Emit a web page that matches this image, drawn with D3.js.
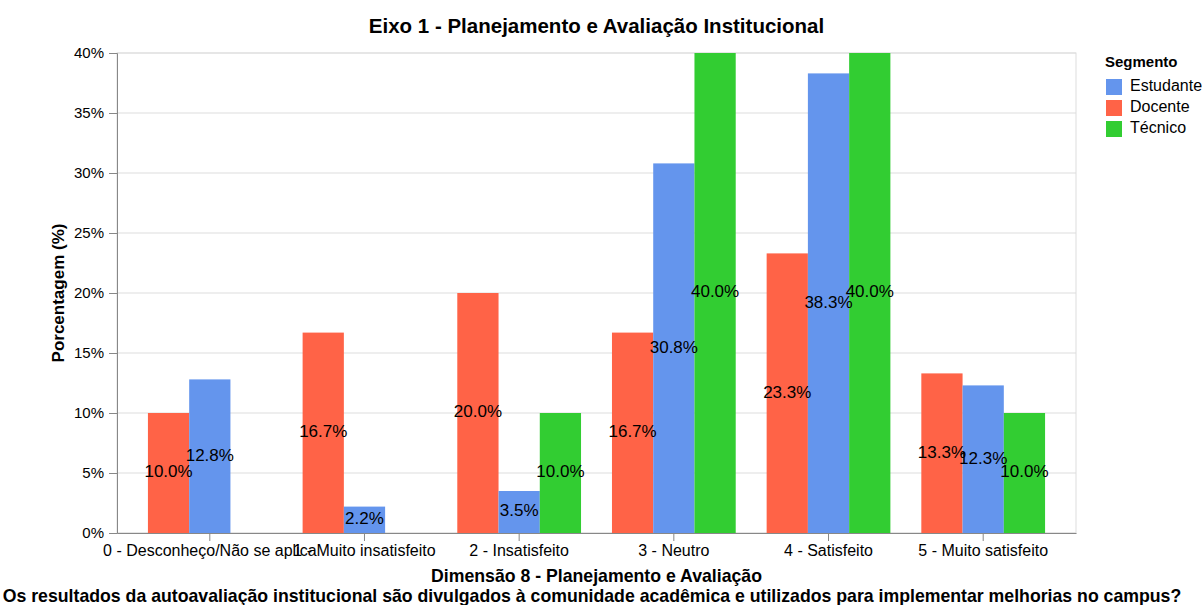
<!DOCTYPE html>
<html>
<head>
<meta charset="utf-8">
<script src="https://cdn.jsdelivr.net/npm/d3@7"></script>
<style>
  html, body { margin: 0; padding: 0; background: #fff; }
  svg { display: block; font-family: Arial, "Liberation Sans", sans-serif; }
</style>
</head>
<body>
<svg id="chart" width="1202" height="605"></svg>
<script>
// Dimensão 8 — respostas por segmento (%)
const categories = [
  '0 - Desconheço/Não se aplica',
  '1 - Muito insatisfeito',
  '2 - Insatisfeito',
  '3 - Neutro',
  '4 - Satisfeito',
  '5 - Muito satisfeito'
]
const segments = ['Docente', 'Estudante', 'Técnico']
const legendOrder = ['Estudante', 'Docente', 'Técnico']
const docente = [10.0, 16.7, 20.0, 16.7, 23.3, 13.3]
const estudante = [12.8, 2.2, 3.5, 30.8, 38.3, 12.3]
const tecnico = [null, null, 10.0, 40.0, 40.0, 10.0]
const yTicks = [0, 5, 10, 15, 20, 25, 30, 35, 40]

const seriesValues = { Docente: docente, Estudante: estudante, 'Técnico': tecnico }
const colors = { Estudante: '#6495ED', Docente: '#FF6347', 'Técnico': '#32CD32' }

const rows = []
categories.forEach((c, i) => {
  segments.forEach(s => {
    const v = seriesValues[s][i]
    if (v != null) rows.push({ cat: c, seg: s, value: v })
  })
})

const margin = { left: 117, top: 53, width: 959, height: 480 }

const svg = d3.select('#chart')
const g = svg.append('g').attr('transform', `translate(${margin.left},${margin.top})`)

const x = d3.scaleBand()
  .domain(categories)
  .range([0, margin.width])
  .paddingInner(0.2)
  .paddingOuter(0.2)

const xOff = d3.scaleBand()
  .domain(segments)
  .range([0, x.bandwidth()])

const y = d3.scaleLinear()
  .domain([0, 40])
  .range([margin.height, 0])

// Grid
g.append('g')
  .selectAll('line')
  .data(yTicks)
  .join('line')
  .attr('x1', 0)
  .attr('x2', margin.width)
  .attr('y1', d => y(d))
  .attr('y2', d => y(d))
  .attr('stroke', '#ddd')

// View border
g.append('rect')
  .attr('width', margin.width)
  .attr('height', margin.height)
  .attr('fill', 'none')
  .attr('stroke', '#ddd')

// Bars
g.append('g')
  .selectAll('rect')
  .data(rows)
  .join('rect')
  .attr('x', d => x(d.cat) + xOff(d.seg))
  .attr('width', xOff.bandwidth())
  .attr('y', d => y(Math.min(d.value, 40)))
  .attr('height', d => y(0) - y(Math.min(d.value, 40)))
  .attr('fill', d => colors[d.seg])

// Y axis
const yAxis = g.append('g')
  .call(d3.axisLeft(y).tickValues(yTicks).tickFormat(d => d + '%').tickSize(8).tickPadding(5))
yAxis.select('.domain').attr('stroke', '#888')
yAxis.selectAll('.tick line').attr('stroke', '#888')
yAxis.selectAll('text').attr('font-size', 15).attr('fill', '#000').attr('font-family', 'Arial, "Liberation Sans", sans-serif')

// X axis
const xAxis = g.append('g')
  .attr('transform', `translate(0,${margin.height})`)
  .call(d3.axisBottom(x).tickSize(8).tickSizeOuter(0).tickPadding(4))
xAxis.select('.domain').attr('stroke', '#888')
xAxis.selectAll('.tick line').attr('stroke', '#888')
xAxis.selectAll('text').attr('font-size', 16).attr('fill', '#000').attr('font-family', 'Arial, "Liberation Sans", sans-serif')

// Value labels
g.append('g')
  .selectAll('text')
  .data(rows)
  .join('text')
  .attr('x', d => x(d.cat) + xOff(d.seg) + xOff.bandwidth() / 2)
  .attr('y', d => y(d.value / 2))
  .attr('text-anchor', 'middle')
  .attr('dominant-baseline', 'middle')
  .attr('font-size', 17)
  .attr('fill', '#000')
  .text(d => d.value.toFixed(1) + '%')

// Title
svg.append('text')
  .attr('x', margin.left + margin.width / 2)
  .attr('y', 33)
  .attr('text-anchor', 'middle')
  .attr('font-size', 20.5)
  .attr('font-weight', 'bold')
  .text('Eixo 1 - Planejamento e Avaliação Institucional')

// Y title
svg.append('text')
  .attr('transform', `translate(64,${margin.top + margin.height / 2}) rotate(-90)`)
  .attr('text-anchor', 'middle')
  .attr('font-size', 17)
  .attr('font-weight', 'bold')
  .text('Porcentagem (%)')

// X title (two lines)
const xTitle = svg.append('text')
  .attr('text-anchor', 'middle')
  .attr('font-size', 17.7)
  .attr('font-weight', 'bold')
xTitle.append('tspan')
  .attr('x', margin.left + margin.width / 2)
  .attr('y', 582)
  .text('Dimensão 8 - Planejamento e Avaliação')
xTitle.append('tspan')
  .attr('x', 592)
  .attr('y', 602)
  .text('Os resultados da autoavaliação institucional são divulgados à comunidade acadêmica e utilizados para implementar melhorias no campus?')

// Legend
const legend = svg.append('g').attr('transform', 'translate(1106,0)')
legend.append('text')
  .attr('x', -1)
  .attr('y', 67)
  .attr('font-size', 15)
  .attr('font-weight', 'bold')
  .text('Segmento')
const items = legend.selectAll('g.item')
  .data(legendOrder)
  .join('g')
  .attr('class', 'item')
  .attr('transform', (d, i) => `translate(0,${87 + i * 21})`)
items.append('rect')
  .attr('x', 0)
  .attr('y', -8)
  .attr('width', 16)
  .attr('height', 16)
  .attr('fill', d => colors[d])
items.append('text')
  .attr('x', 24)
  .attr('y', 0)
  .attr('dominant-baseline', 'middle')
  .attr('font-size', 16)
  .text(d => d)
</script>
</body>
</html>
